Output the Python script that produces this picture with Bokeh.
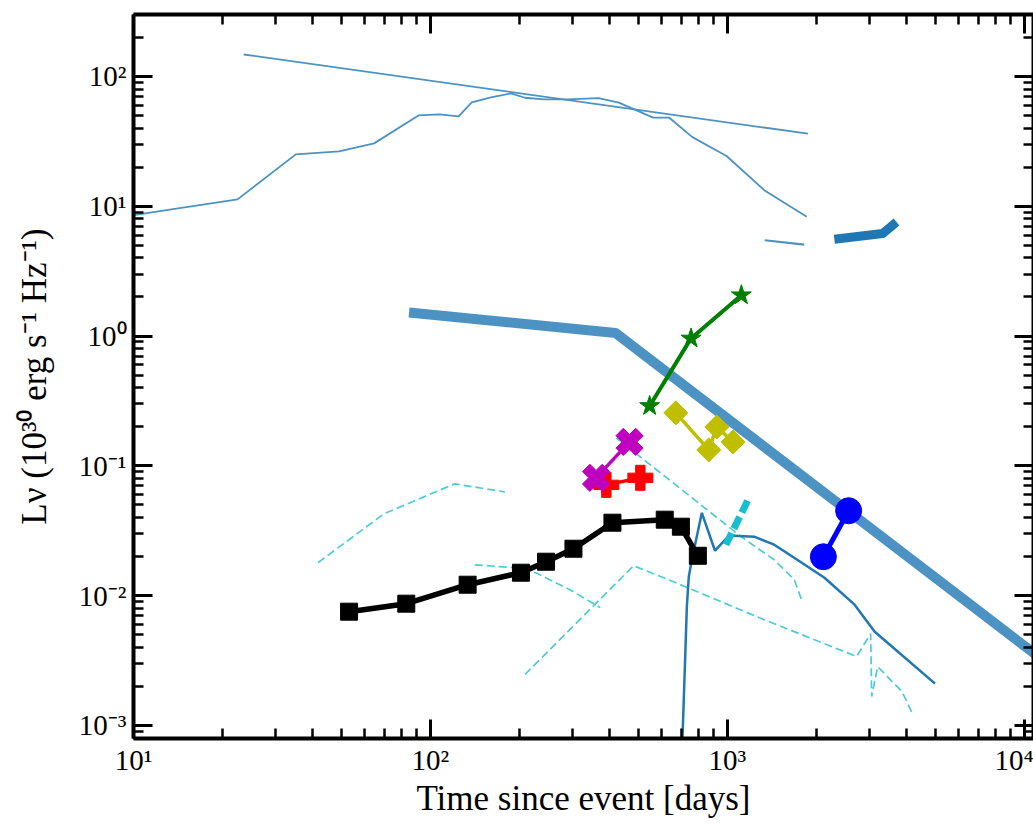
import numpy as np
from bokeh.plotting import figure
from bokeh.models import LogAxis, FixedTicker, CustomJSTickFormatter, Range1d, BoxAnnotation
from bokeh.embed import file_html
from bokeh.resources import INLINE

# ---------------- data (time in days, L_nu in 1e30 erg/s/Hz) ----------------
pl_t = [23.5, 1866]
pl_L = [147.6, 36.2]

lc_t = [10, 22.4, 35.2, 49.2, 64.6, 91.1, 107.3, 124.4, 137.7, 159.7, 186.6, 208,
        241, 290, 368, 431, 562, 637, 762, 993, 1330, 1849]
lc_L = [8.53, 11.3, 25.1, 26.5, 30.5, 50.1, 51.0, 49.2, 63.0, 68.9, 74.0, 68.5,
        66.5, 66.5, 68.1, 62.8, 48.1, 48.1, 34.1, 24.4, 13.3, 8.3]

seg_t = [1336, 1815]
seg_L = [5.47, 5.07]

thick_t = [2291, 3334, 3709]
thick_L = [5.57, 6.17, 7.56]

band_t = [84.7, 420, 20000]
band_L = [1.52, 1.055, 0.00122]

model_t = [694, 730, 741, 759, 820, 908, 989, 1052, 1230, 1437, 1718, 2122, 2680, 3133, 5000]
model_L = [2.5e-4, 0.00823, 0.0140, 0.0189, 0.0435, 0.0222, 0.0274, 0.0290, 0.0285,
           0.0247, 0.0189, 0.01375, 0.00853, 0.00528, 0.0021]

dA_t = [41.8, 69.8, 120.5, 178]
dA_L = [0.01795, 0.0428, 0.0727, 0.063]
dB_t = [141, 194, 226, 295, 373]
dB_L = [0.0173, 0.0164, 0.01503, 0.0111, 0.0081]
dC_t = [208, 483, 610, 1330, 2723, 3036, 3060, 3206, 3866, 4210]
dC_L = [0.00247, 0.0170, 0.01375, 0.00653, 0.0034, 0.0051, 0.00167, 0.00284, 0.00183, 0.00122]
dD_t = [423, 1111, 1437, 1679, 1786]
dD_L = [0.164, 0.0285, 0.0189, 0.01328, 0.0090]

cyan_t = [988, 1183]
cyan_L = [0.0247, 0.0568]

black_t = [53.2, 82.9, 133.4, 201.7, 245, 303, 410, 615, 697, 795]
black_L = [0.00753, 0.00868, 0.01215, 0.01503, 0.01827, 0.0230, 0.0365, 0.0385, 0.0340, 0.0203]
red_t = [391, 509]
red_L = [0.0714, 0.0809]
mag_t = [361, 468]
mag_L = [0.0809, 0.153]
yel_t = [670, 865, 921, 1044]
yel_L = [0.256, 0.1327, 0.1995, 0.153]
grn_t = [547, 754, 1114]
grn_L = [0.2896, 0.959, 2.065]
blu_t = [2104, 2559]
blu_L = [0.01995, 0.0451]

x_major = [10, 100, 1000, 10000]
y_major = [1e-3, 1e-2, 1e-1, 1, 10, 100]

# ---------------- figure ----------------
FONT = "Liberation Serif"
p = figure(width=1033, height=820, x_axis_type="log", y_axis_type="log",
           x_range=Range1d(10, 10730), y_range=Range1d(7.94e-4, 300),
           output_backend="svg", toolbar_location=None,
           min_border_left=133, min_border_right=0, min_border_top=14, min_border_bottom=81)
p.grid.visible = False
p.outline_line_color = None
p.background_fill_color = "white"
p.border_fill_color = "white"

# light-grey page strips around the figure
for l, r, t, b in ((0, 1033, 0, 7), (0, 19, 0, 403), (0, 12, 403, 820)):
    p.add_layout(BoxAnnotation(left=l, right=r, top=t, bottom=b,
                               left_units="canvas", right_units="canvas",
                               top_units="canvas", bottom_units="canvas",
                               fill_color="#f2f2f2", fill_alpha=1.0, line_color=None,
                               level="overlay"))

x_minor = [m * 10 ** k for k in range(1, 5) for m in range(2, 10)]
y_minor = [m * 10.0 ** k for k in range(-4, 3) for m in range(2, 10)]

fmt = CustomJSTickFormatter(code="""
const sup = {'-':'\\u207b','0':'\\u2070','1':'\\u00b9','2':'\\u00b2','3':'\\u00b3','4':'\\u2074',
             '5':'\\u2075','6':'\\u2076','7':'\\u2077','8':'\\u2078','9':'\\u2079'};
const e = Math.round(Math.log10(tick));
return '10' + String(e).split('').map(c => sup[c]).join('');
""")

def style(ax, major, minor, labels=True):
    ax.ticker = FixedTicker(ticks=major, minor_ticks=minor)
    ax.major_tick_in = 19
    ax.major_tick_out = 0
    ax.minor_tick_in = 10
    ax.minor_tick_out = 0
    ax.major_tick_line_width = 3
    ax.minor_tick_line_width = 2.5
    ax.major_tick_line_color = "black"
    ax.minor_tick_line_color = "black"
    ax.axis_line_width = 4
    ax.axis_line_color = "black"
    if labels:
        ax.formatter = fmt
        ax.major_label_text_font = FONT
        ax.major_label_text_font_size = "29px"
        ax.major_label_text_color = "black"
    else:
        ax.major_label_text_font_size = "2px"
        ax.major_label_text_alpha = 0
        ax.major_label_standoff = 0

style(p.xaxis[0], x_major, x_minor)
style(p.yaxis[0], y_major, y_minor)
p.xaxis[0].major_label_standoff = 5
p.yaxis[0].major_label_standoff = 7
p.xaxis.axis_label = "Time since event [days]"
p.yaxis.axis_label = "L\u03bd (10\u00b3\u2070 erg s\u207b\u00b9 Hz\u207b\u00b9)"
for ax in (p.xaxis[0], p.yaxis[0]):
    ax.axis_label_text_font = FONT
    ax.axis_label_text_font_size = "35px"
    ax.axis_label_text_font_style = "normal"
    ax.axis_label_text_color = "black"
p.xaxis[0].axis_label_standoff = 0
p.yaxis[0].axis_label_standoff = 22

top = LogAxis()
style(top, x_major, x_minor, labels=False)
p.add_layout(top, "above")
right = LogAxis()
style(right, y_major, y_minor, labels=False)
p.add_layout(right, "right")

# ---------------- glyphs ----------------
C0a = "#4c92c3"
p.line(pl_t, pl_L, line_color=C0a, line_width=1.8)
p.line(lc_t, lc_L, line_color=C0a, line_width=1.8)
p.line(seg_t, seg_L, line_color=C0a, line_width=2.2)
p.line(thick_t, thick_L, line_color="#1f77b4", line_width=9, line_join="round")
p.line(band_t, band_L, line_color=C0a, line_width=10, line_join="round")

cy = "#4ccbd9"
for tt, LL in ((dA_t, dA_L), (dB_t, dB_L), (dC_t, dC_L), (dD_t, dD_L)):
    p.line(tt, LL, line_color=cy, line_width=1.7, line_dash="8 4")

p.line(model_t, model_L, line_color="#1f77b4", line_width=2.5)
p.line(cyan_t, cyan_L, line_color="#17becf", line_width=7, line_dash="13 5")

p.line(black_t, black_L, line_color="black", line_width=5.5)
p.scatter(black_t, black_L, marker="square", size=17, color="black")

p.line(red_t, red_L, line_color="#ff0000", line_width=3.5)
p.scatter(red_t, red_L, marker="plus", size=25, color="#ff0000")

p.line(mag_t, mag_L, line_color="#bf00bf", line_width=3.5)
p.scatter(mag_t, mag_L, marker="plus", size=28, angle=np.pi / 4, color="#bf00bf")

p.line(yel_t, yel_L, line_color="#bfbf00", line_width=3.5)
p.scatter(yel_t, yel_L, marker="square", size=17, angle=np.pi / 4, color="#bfbf00")

p.line(grn_t, grn_L, line_color="#008000", line_width=4)
p.scatter(grn_t, grn_L, marker="star", size=21, color="#008000")

p.line(blu_t, blu_L, line_color="#0000ff", line_width=5)
p.scatter(blu_t, blu_L, marker="circle", size=26, color="#0000ff")

open("out.html", "w").write(file_html(p, INLINE))
